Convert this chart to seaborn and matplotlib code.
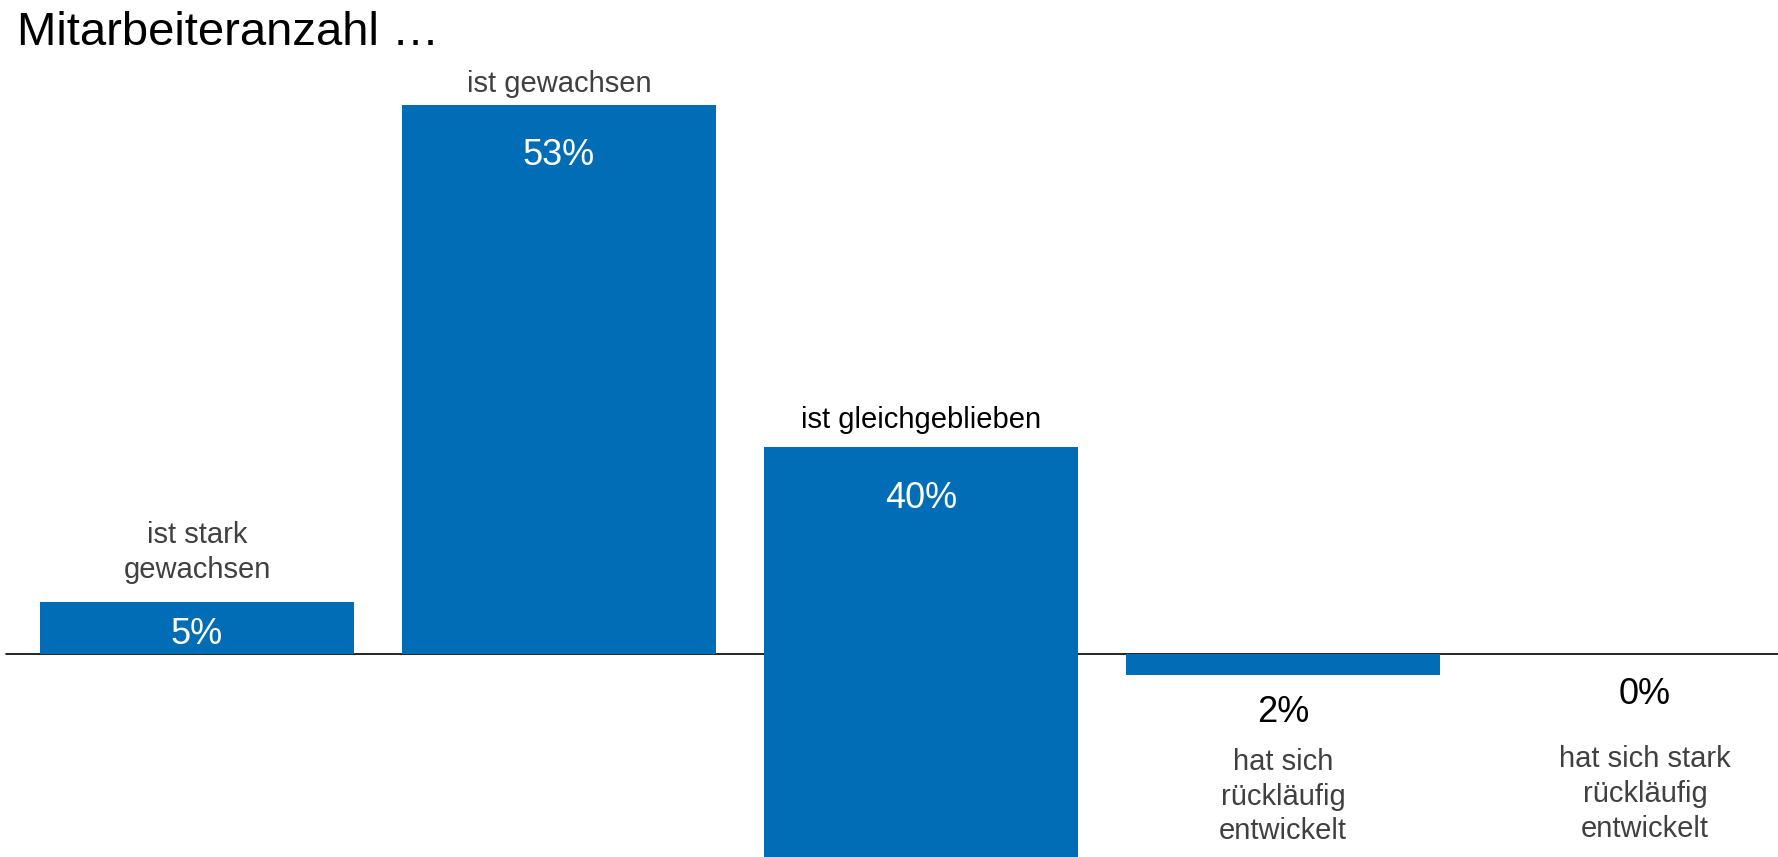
"""
plot.py
Mitarbeiteranzahl ... - diverging bar chart (growth / stable / decline).
"""

import pandas as pd
import matplotlib.pyplot as plt
import seaborn as sns

BLUE = "#006DB6"
GREY = "#404040"

categories = ["ist stark\ngewachsen", "ist gewachsen", "ist gleichgeblieben",
              "hat sich\nrückläufig\nentwickelt",
              "hat sich stark\nrückläufig\nentwickelt"]
shares = [5, 53, 40, 2, 0]
# +1 = bar above the line, 0 = centred on it, -1 = bar below the line
direction = [1, 1, 0, -1, -1]

# label placement (pixels from the bar end, positive = up)
pct_offset = [-32, -50, -51, -38, -40]
cat_offset = [50, 21, 27, -122, -140]
pct_colors = ["white", "white", "white", "black", "black"]
cat_colors = [GREY, GREY, "black", GREY, GREY]

upper = [s if d > 0 else s / 2 if d == 0 else 0 for s, d in zip(shares, direction)]
lower = [0 if d > 0 else -s / 2 if d == 0 else -s for s, d in zip(shares, direction)]
df = pd.DataFrame({"cat": categories, "upper": upper, "lower": lower})

sns.set_style("white")
plt.rcParams["font.family"] = ["Liberation Sans", "DejaVu Sans"]

fig = plt.figure(figsize=(17.78, 8.57), dpi=100)
ax = fig.add_axes([0, 0, 1, 1])

for col in ["upper", "lower"]:
    sns.barplot(data=df, x="cat", y=col, order=categories, color=BLUE,
                saturation=1, width=0.865, linewidth=0, ax=ax, zorder=2)

ax.axhline(0, xmin=6 / 1778, xmax=1, color="black", linewidth=1.2, zorder=1)

PX = 0.72  # points per pixel at dpi 100
for i, cat in enumerate(categories):
    end = upper[i] if direction[i] >= 0 else lower[i]
    ax.annotate(f"{shares[i]}%", xy=(i, end), xytext=(0, pct_offset[i] * PX),
                textcoords="offset points", ha="center", va="center",
                fontsize=26, color=pct_colors[i])
    ax.annotate(cat, xy=(i, end), xytext=(0, cat_offset[i] * PX),
                textcoords="offset points", ha="center", va="center",
                fontsize=21, color=cat_colors[i], linespacing=1.3)

ax.set_xlim(-197 / 362, (1778 - 197) / 362)
ax.set_ylim(-(857 - 654) / 10.35, 654 / 10.35)
ax.axis("off")

fig.text(17 / 1778, 1 - 45 / 857, "Mitarbeiteranzahl …", fontsize=34,
         color="black", ha="left", va="baseline")

fig.savefig("out.png", dpi=100)
plt.close()
